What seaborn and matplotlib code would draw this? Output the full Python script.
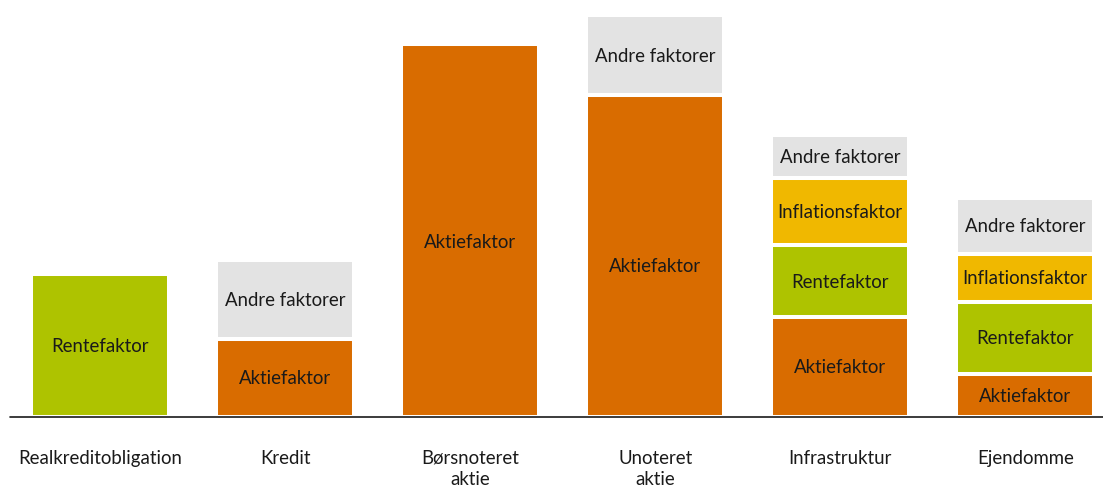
"""
Faktoreksponering pr. aktivklasse — stablede søjler
"""
import matplotlib
matplotlib.use("Agg")
import matplotlib.pyplot as plt
import numpy as np
import pandas as pd
import seaborn as sns

# ── Data ──────────────────────────────────────────────────────────────────────
categories = ["Realkreditobligation", "Kredit", "Børsnoteret\naktie",
              "Unoteret\naktie", "Infrastruktur", "Ejendomme"]
factors = ["Aktiefaktor", "Rentefaktor", "Inflationsfaktor", "Andre faktorer"]

aktie     = [0, 78, 373, 322, 100, 43]
rente     = [143, 0, 0, 0, 72, 72]
inflation = [0, 0, 0, 0, 67, 48]
andre     = [0, 79, 0, 80, 43, 56]

COLORS = {
    "Aktiefaktor": "#D96C00",
    "Rentefaktor": "#AEC300",
    "Inflationsfaktor": "#F0B800",
    "Andre faktorer": "#E3E3E3",
}

df = pd.DataFrame({"kategori": categories, "Aktiefaktor": aktie,
                   "Rentefaktor": rente, "Inflationsfaktor": inflation,
                   "Andre faktorer": andre})
cum = df[factors].cumsum(axis=1)

# ── Plot ──────────────────────────────────────────────────────────────────────
sns.set_theme(style="white")
plt.rcParams["font.family"] = ["Lato", "DejaVu Sans"]
FS = 13.4

fig = plt.figure(figsize=(11.03, 4.89), dpi=100)
ax = fig.add_axes([10 / 1103, 71 / 489, 1 - 10 / 1103, 1 - 71 / 489])

# draw from the top of the stack downwards so lower layers sit on top
for f in reversed(factors):
    sns.barplot(x=df["kategori"], y=cum[f], color=COLORS[f], width=0.745,
                edgecolor="white", linewidth=2.9, saturation=1, ax=ax,
                order=categories)

# segment labels (tall single segments get their label a bit lower)
for i in range(len(categories)):
    bottom = 0
    for f in factors:
        h = df.loc[i, f]
        if h > 0:
            y = bottom + h / 2 - (0.03 * h if h > 200 else 0)
            ax.text(i, y, f, ha="center", va="center",
                    fontsize=FS, color="#1a1a1a")
        bottom += h

ax.axhline(0, color="#1a1a1a", lw=1.2, zorder=10, clip_on=False)
ax.set_xlim(-0.486, 5.42)
ax.set_ylim(0, 418)
ax.set_xlabel(""); ax.set_ylabel("")
ax.set_yticks([])
ax.set_xticks(range(len(categories)))
ax.set_xticklabels(categories, fontsize=FS, color="#1a1a1a",
                   linespacing=1.28, va="top")
ax.tick_params(axis="x", length=0, pad=23)
sns.despine(ax=ax, left=True, bottom=True)

plt.savefig("out.png", dpi=100)
plt.close()
